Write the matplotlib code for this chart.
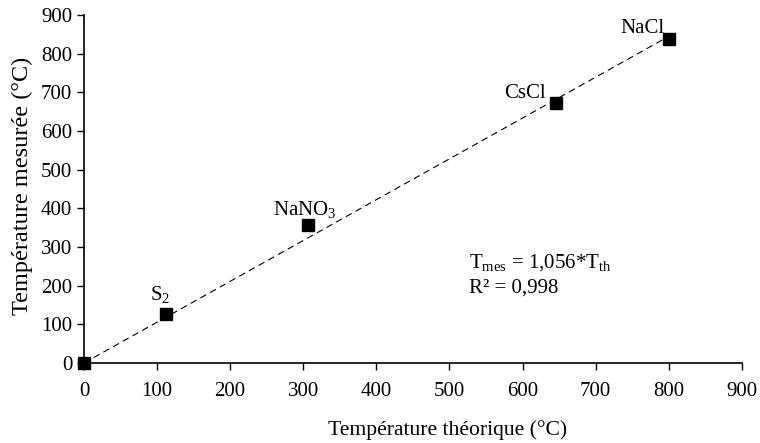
import matplotlib
matplotlib.use("Agg")
import matplotlib.pyplot as plt

plt.rcParams['font.family'] = ['Liberation Serif', 'DejaVu Serif']
plt.rcParams['mathtext.fontset'] = 'custom'
plt.rcParams['mathtext.rm'] = 'Liberation Serif'
plt.rcParams['mathtext.it'] = 'Liberation Serif'

# valeurs
t_theo = [0, 112, 307, 646, 801]
t_mes = [0, 127, 357, 672, 838]
noms = ['', r'S$_2$', r'NaNO$_3$', 'CsCl', 'NaCl']
pente = 1.056
ticks = [0, 100, 200, 300, 400, 500, 600, 700, 800, 900]

fig = plt.figure(figsize=(7.6, 4.43), dpi=100)
ax = fig.add_axes([0.1105, 0.1806, 0.8655, 0.7854])

# droite de regression
x_fit = [0, 800]
y_fit = [pente * x for x in x_fit]
ax.plot(x_fit, y_fit, linestyle=(0, (6, 4)), color='black', linewidth=0.8)

ax.plot(t_theo, t_mes, linestyle='none', marker='s', markersize=8.5,
        color='black', clip_on=False, zorder=3)

# etiquettes des points
fs = 15
ax.text(104, 163, noms[1], fontsize=fs, ha='center', va='baseline')
ax.text(302, 383, noms[2], fontsize=fs, ha='center', va='baseline')
ax.text(632, 685, noms[3], fontsize=fs, ha='right', va='baseline')
ax.text(794, 853, noms[4], fontsize=fs, ha='right', va='baseline')

ax.text(527, 248, r'T$_{\mathrm{mes}}$ = 1,056*T$_{\mathrm{th}}$', fontsize=fs, va='baseline')
ax.text(527, 181, 'R² = 0,998', fontsize=fs, va='baseline')

ax.set_xlim(0, 900)
ax.set_ylim(0, 900)
ax.set_xticks(ticks)
ax.set_yticks(ticks)
ax.tick_params(labelsize=15, direction='out', length=5, width=1)
ax.tick_params(axis='x', pad=9)
ax.spines['top'].set_visible(False)
ax.spines['right'].set_visible(False)
for s in ['left', 'bottom']:
    ax.spines[s].set_linewidth(1.2)

ax.set_xlabel('Température théorique (°C)', fontsize=15.6)
ax.xaxis.set_label_coords(0.552, -0.163)
ax.set_ylabel('Température mesurée (°C)', fontsize=17.5)
ax.yaxis.set_label_coords(-0.078, 0.51)

fig.savefig('out.png', dpi=100)
